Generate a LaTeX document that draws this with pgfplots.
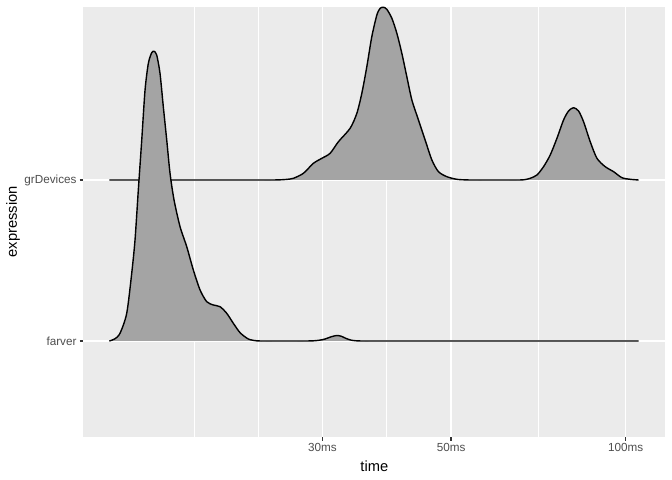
\documentclass[border=0pt]{standalone}
\usepackage{pgfplots}
\usepackage{pgfplotstable}
\pgfplotsset{compat=1.18}
\usepackage{fontspec}
\setmainfont{Liberation Sans}
\definecolor{panelbg}{HTML}{EBEBEB}
\definecolor{ridgefill}{HTML}{A4A4A4}
\definecolor{ticklab}{HTML}{4D4D4D}
\definecolor{tickcol}{HTML}{333333}
% x = log10(time in ms), y = ridge baseline + scaled density
\pgfplotstableread{
x y
1.1096 1.0000
1.1190 1.0130
1.1280 1.0478
1.1396 1.1720
1.1482 1.4205
1.1539 1.6273
1.1596 1.9379
1.1655 2.2484
1.1712 2.5590
1.1769 2.7248
1.1827 2.7907
1.1867 2.7994
1.1913 2.7764
1.1970 2.6627
1.2027 2.4553
1.2086 2.2484
1.2143 2.0416
1.2212 1.8758
1.2316 1.7099
1.2431 1.5857
1.2545 1.4410
1.2661 1.3168
1.2776 1.2441
1.2890 1.2236
1.3006 1.2130
1.3121 1.1720
1.3235 1.1099
1.3351 1.0516
1.3494 1.0124
1.3639 1.0010
1.3780 1.0000
1.3950 1.0000
1.4120 1.0000
1.4290 1.0000
1.4460 1.0000
1.4611 1.0010
1.4720 1.0050
1.4818 1.0124
1.4920 1.0260
1.5020 1.0342
1.5100 1.0290
1.5180 1.0155
1.5270 1.0050
1.5365 1.0010
1.5470 1.0000
1.5600 1.0000
1.5800 1.0000
1.6100 1.0000
1.6500 1.0000
1.7000 1.0000
1.7600 1.0000
1.8300 1.0000
1.9000 1.0000
1.9600 1.0000
2.0224 1.0000
}\farver
\pgfplotstableread{
x y
1.1096 2.0000
1.1700 2.0000
1.2300 2.0000
1.2800 2.0000
1.3200 2.0000
1.3500 2.0000
1.3720 2.0000
1.3900 2.0000
1.4041 2.0010
1.4160 2.0040
1.4271 2.0106
1.4443 2.0416
1.4616 2.1037
1.4761 2.1348
1.4904 2.1658
1.5047 2.2379
1.5249 2.3211
1.5365 2.4143
1.5451 2.5385
1.5537 2.7037
1.5623 2.8901
1.5710 3.0248
1.5767 3.0665
1.5824 3.0727
1.5882 3.0602
1.5969 3.0043
1.6055 2.9112
1.6141 2.7870
1.6227 2.6416
1.6314 2.4969
1.6428 2.3727
1.6543 2.2484
1.6659 2.1242
1.6773 2.0516
1.6918 2.0205
1.7090 2.0043
1.7263 2.0005
1.7430 2.0000
1.7600 2.0000
1.7780 2.0000
1.7960 2.0000
1.8130 2.0000
1.8250 2.0015
1.8355 2.0106
1.8471 2.0311
1.8585 2.0826
1.8700 2.1553
1.8816 2.2590
1.8930 2.3727
1.9016 2.4286
1.9102 2.4491
1.9189 2.4286
1.9275 2.3621
1.9390 2.2379
1.9506 2.1348
1.9649 2.0826
1.9793 2.0516
1.9937 2.0143
2.0081 2.0043
2.0224 2.0000
}\grdevices
\begin{document}
\begin{tikzpicture}
\useasboundingbox (-83.3bp,-43bp) rectangle (588.7bp,437bp);
\begin{axis}[
  at={(0,0)}, anchor=south west, scale only axis,
  width=582bp, height=430.3bp,
  xmin=1.0647, xmax=2.0685, ymin=0.4037, ymax=3.0764,
  axis background/.style={fill=panelbg},
  axis line style={draw=none},
  tick pos=left, tick align=outside,
  xtick={1.4771,1.6990,2}, xticklabels={30ms,50ms,100ms},
  minor xtick={1.2557,1.3661,1.5881,1.8495},
  ytick={1,2}, yticklabels={farver,grDevices},
  grid=both,
  major grid style={white, line width=1.4bp},
  minor grid style={white, line width=0.7bp},
  major tick length=3.7bp, minor tick length=0bp,
  every tick/.style={tickcol, line width=1.4bp},
  ticklabel style={font=\fontsize{11.7bp}{13bp}\selectfont, text=ticklab, inner sep=0pt},
  xticklabel style={yshift=-2.9bp},
  yticklabel style={xshift=-2.9bp},
  label style={font=\fontsize{14.7bp}{16bp}\selectfont},
  xlabel=time, ylabel=expression,
  xlabel style={at={(axis description cs:0.5,-0.0674)}, anchor=center, inner sep=0pt},
  ylabel style={at={(axis description cs:-0.1208,0.5)}, anchor=center, inner sep=0pt},
  ridge/.style={smooth, tension=0.45},
]
\addplot[ridge, draw=none, fill=ridgefill] table {\grdevices} -- cycle;
\addplot[ridge, black, line width=1.4bp, line join=round] table {\grdevices};
\addplot[ridge, draw=none, fill=ridgefill] table {\farver} -- cycle;
\addplot[ridge, black, line width=1.4bp, line join=round] table {\farver};
\end{axis}
\end{tikzpicture}
\end{document}
